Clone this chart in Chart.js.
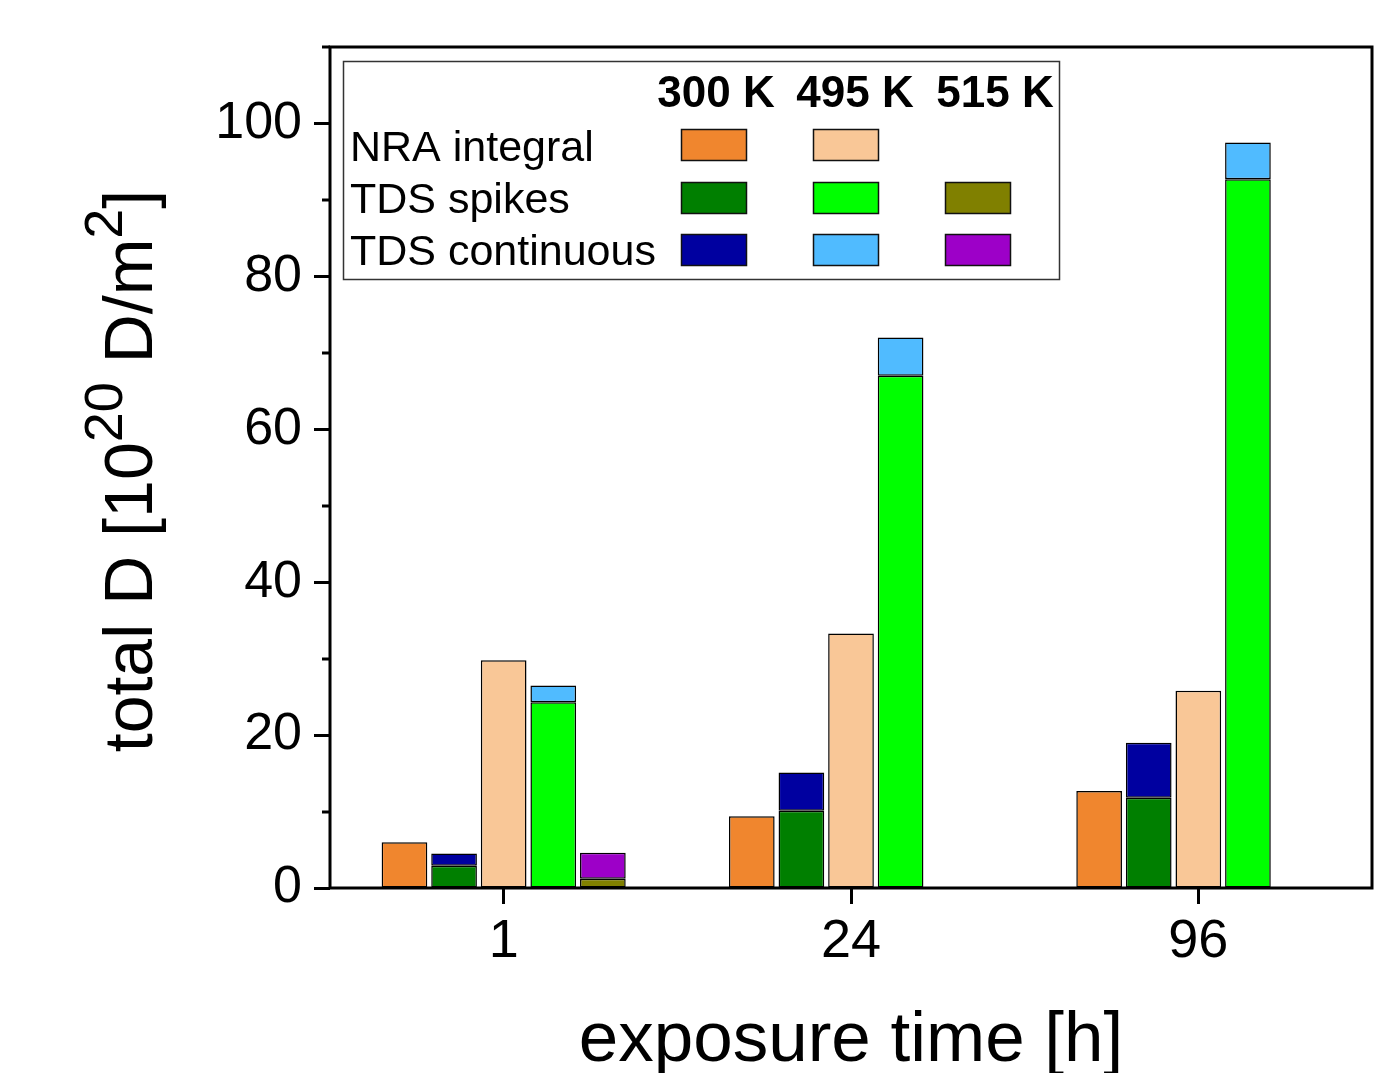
<!DOCTYPE html>
<html>
<head>
<meta charset="utf-8">
<script src="https://cdn.jsdelivr.net/npm/chart.js@4/dist/chart.umd.min.js"></script>
<style>
  html, body { margin: 0; padding: 0; background: #fff; }
  #wrap { width: 1394px; height: 1073px; position: relative; }
</style>
</head>
<body>
<div id="wrap"><canvas id="chart"></canvas></div>
<script>
// exposure time categories
const categories = ["1", "24", "96"];

// NRA integral
const nra300 = [6.0, 9.4, 12.7];
const nra495 = [29.8, 33.3, 25.8];

// TDS spikes + continuous (stacked)
const spikes300 = [2.9, 10.1, 11.8];
const cont300 = [1.6, 5.0, 7.2];
const spikes495 = [24.3, 67.0, 92.7];
const cont495 = [2.2, 5.0, 4.8];
const spikes515 = [1.2, null, null];
const cont515 = [3.4, null, null];

const tempLabels = ["300 K", "495 K", "515 K"];
const rowLabels = ["NRA integral", "TDS spikes", "TDS continuous"];
const yTicks = [0, 20, 40, 60, 80, 100];

const FONT = "'Liberation Sans', Arial, sans-serif";

function ds(label, data, color, stack) {
    return {
        label: label,
        data: data,
        stack: stack,
        backgroundColor: color,
        borderColor: "#000",
        borderWidth: 1.5,
        borderSkipped: false,
        barPercentage: 0.921,
        categoryPercentage: 0.714
    };
}

const datasets = [
    ds("NRA integral 300 K", nra300, "#F0862E", "a"),
    ds("TDS spikes 300 K", spikes300, "#007F00", "b"),
    ds("TDS continuous 300 K", cont300, "#0000A0", "b"),
    ds("NRA integral 495 K", nra495, "#F9C797", "c"),
    ds("TDS spikes 495 K", spikes495, "#00FF00", "d"),
    ds("TDS continuous 495 K", cont495, "#50BBFF", "d"),
    ds("TDS spikes 515 K", spikes515, "#808000", "e"),
    ds("TDS continuous 515 K", cont515, "#9D00C8", "e")
];

// legend table: row -> column -> dataset index
const legendMap = [
    [0, 3, null],
    [1, 4, 6],
    [2, 5, 7]
];

const extras = {
    id: "extras",
    afterDraw(chart) {
        const ctx = chart.ctx;
        const area = chart.chartArea;
        const y = chart.scales.y;
        ctx.save();

        // minor ticks
        ctx.strokeStyle = "#000";
        ctx.lineWidth = 3;
        for (let v = 10; v <= 110; v += 20) {
            const py = Math.round(y.getPixelForValue(v));
            ctx.beginPath();
            ctx.moveTo(area.left - 8, py);
            ctx.lineTo(area.left, py);
            ctx.stroke();
        }

        // frame
        ctx.strokeRect(area.left, area.top, area.right - area.left, area.bottom - area.top);

        // legend box
        ctx.lineWidth = 1.5;
        ctx.strokeStyle = "#333";
        ctx.fillStyle = "#fff";
        ctx.fillRect(343.5, 61.5, 716, 218);
        ctx.strokeRect(343.5, 61.5, 716, 218);

        const colX = [681, 813, 945];
        const headX = [716, 855, 995];
        const rowY = [129, 182, 234];
        const baseY = [161, 213, 265];
        ctx.fillStyle = "#000";
        ctx.textAlign = "center";
        ctx.textBaseline = "alphabetic";
        ctx.font = "bold 44px " + FONT;
        tempLabels.forEach((t, i) => ctx.fillText(t, headX[i], 107));

        ctx.textAlign = "left";
        ctx.font = "43px " + FONT;
        rowLabels.forEach((t, r) => {
            ctx.fillStyle = "#000";
            ctx.fillText(t, 350, baseY[r]);
            legendMap[r].forEach((di, c) => {
                if (di === null) return;
                ctx.fillStyle = datasets[di].backgroundColor;
                ctx.fillRect(colX[c], rowY[r], 66, 32);
                ctx.lineWidth = 1.5;
                ctx.strokeStyle = "#111";
                ctx.strokeRect(colX[c] + 0.5, rowY[r] + 0.5, 65, 31);
            });
        });

        // x title
        ctx.fillStyle = "#000";
        ctx.textAlign = "center";
        ctx.font = "71px " + FONT;
        ctx.fillText("exposure time [h]", 851, 1061);

        // y title with superscripts
        const big = "68px " + FONT;
        const small = "54px " + FONT;
        const parts = [
            ["total D [10", big, 0],
            ["20", small, -30],
            [" D/m", big, 0],
            ["2", small, -30],
            ["]", big, 0]
        ];
        let total = 0;
        parts.forEach(p => { ctx.font = p[1]; total += ctx.measureText(p[0]).width; });
        ctx.translate(152, 471);
        ctx.rotate(-Math.PI / 2);
        ctx.textAlign = "left";
        let x = -total / 2;
        parts.forEach(p => {
            ctx.font = p[1];
            ctx.fillText(p[0], x, p[2]);
            x += ctx.measureText(p[0]).width;
        });
        ctx.restore();
    }
};

new Chart(document.getElementById("chart"), {
    type: "bar",
    data: { labels: categories, datasets: datasets },
    options: {
        responsive: true,
        maintainAspectRatio: false,
        animation: false,
        layout: { padding: { left: 0, top: 47, right: 22, bottom: 0 } },
        plugins: {
            legend: { display: false },
            tooltip: { enabled: false }
        },
        scales: {
            x: {
                stacked: true,
                afterFit(scale) { scale.height = 185; },
                grid: {
                    offset: false,
                    drawOnChartArea: false,
                    tickLength: 16,
                    tickWidth: 3,
                    tickColor: "#000"
                },
                border: { display: false },
                ticks: {
                    color: "#000",
                    padding: 6,
                    font: { family: FONT, size: 54 }
                }
            },
            y: {
                stacked: true,
                min: 0,
                max: 110,
                afterFit(scale) { scale.width = 330; },
                grid: {
                    drawOnChartArea: false,
                    tickLength: 16,
                    tickWidth: 3,
                    tickColor: ctx => (yTicks.includes(ctx.tick.value) ? "#000" : "rgba(0,0,0,0)")
                },
                border: { display: false },
                ticks: {
                    stepSize: 10,
                    color: "#000",
                    padding: 12,
                    font: { family: FONT, size: 52 },
                    callback: v => (yTicks.includes(v) ? v : "")
                }
            }
        }
    },
    plugins: [extras]
});
</script>
</body>
</html>
